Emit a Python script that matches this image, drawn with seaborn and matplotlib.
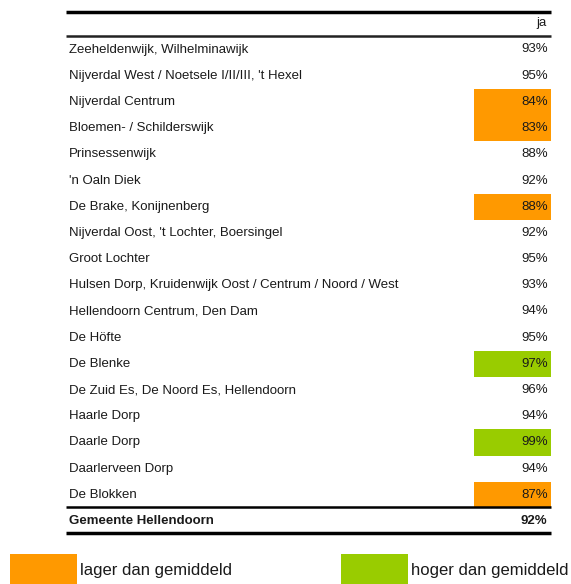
import numpy as np
import pandas as pd
import seaborn as sns
import matplotlib.pyplot as plt
from matplotlib.colors import ListedColormap
from matplotlib.patches import Rectangle

# Gegevens
wijken = ["Zeeheldenwijk, Wilhelminawijk",
          "Nijverdal West / Noetsele I/II/III, 't Hexel",
          "Nijverdal Centrum",
          "Bloemen- / Schilderswijk",
          "Prinsessenwijk",
          "'n Oaln Diek",
          "De Brake, Konijnenberg",
          "Nijverdal Oost, 't Lochter, Boersingel",
          "Groot Lochter",
          "Hulsen Dorp, Kruidenwijk Oost / Centrum / Noord / West",
          "Hellendoorn Centrum, Den Dam",
          "De Höfte",
          "De Blenke",
          "De Zuid Es, De Noord Es, Hellendoorn",
          "Haarle Dorp",
          "Daarle Dorp",
          "Daarlerveen Dorp",
          "De Blokken"]
ja = [93, 95, 84, 83, 88, 92, 88, 92, 95, 93, 94, 95, 97, 96, 94, 99, 94, 87]
status = ["", "", "lager", "lager", "", "", "lager", "", "", "", "", "",
          "hoger", "", "", "hoger", "", "lager"]
totaal_naam = "Gemeente Hellendoorn"
totaal_ja = 92
kolom = "ja"
legenda = ["lager dan gemiddeld", "hoger dan gemiddeld"]

ORANJE = "#FF9900"
GROEN = "#99CC00"
TXT = "#1a1a1a"

sns.set_theme(style="white")
plt.rcParams["font.family"] = ["Liberation Sans", "DejaVu Sans"]

W, H = 571, 584
ROW0, ROWH = 49.5, 26.2   # pixel centre of first row, row height
FS = 9.5
fig = plt.figure(figsize=(W / 100, H / 100), dpi=100)
ax = fig.add_axes([0, 0, 1, 1])
ax.set_xlim(0, W)
ax.set_ylim((H - ROW0) / ROWH, -ROW0 / ROWH)
ax.axis("off")
ax.set_zorder(2)

df = pd.DataFrame({"wijk": wijken, "ja": ja, "status": status})
n = len(df)

# gekleurde cellen via heatmap
code = df["status"].map({"": 0, "lager": 1, "hoger": 2}).to_numpy().reshape(-1, 1)
annot = np.array([f"{v}%" for v in df["ja"]]).reshape(-1, 1)
top_px = ROW0 - ROWH / 2
bot_px = ROW0 + ROWH * (n - 0.5)
hax = fig.add_axes([474 / W, 1 - bot_px / H, 77 / W, (bot_px - top_px) / H])
hax.set_zorder(1)
sns.heatmap(code, ax=hax, cmap=ListedColormap(["white", ORANJE, GROEN]),
            vmin=-0.5, vmax=2.5, cbar=False, annot=annot, fmt="",
            annot_kws={"fontsize": FS, "color": TXT}, xticklabels=False, yticklabels=False)
for t in hax.texts:
    t.set_ha("right")
    t.set_x(0.96)
hax.patch.set_alpha(0)

# tekstkolom
for i, naam in enumerate(df["wijk"]):
    ax.text(69, i, naam, ha="left", va="center", fontsize=FS, color=TXT)
ax.text(547, -1, kolom, ha="right", va="center", fontsize=FS, color=TXT)
ax.text(69, n, totaal_naam, ha="left", va="center", fontsize=FS, color=TXT, fontweight="bold")
ax.text(547, n, f"{totaal_ja}%", ha="right", va="center", fontsize=FS, color=TXT, fontweight="bold")

# lijnen
ax.plot([66, 551], [-1.45, -1.45], color="black", lw=2.5, solid_capstyle="butt")
ax.plot([66, 551], [-0.52, -0.52], color="#222222", lw=1.8, solid_capstyle="butt")
ax.plot([66, 551], [n - 0.52, n - 0.52], color="black", lw=1.8, solid_capstyle="butt")
ax.plot([66, 551], [n + 0.47, n + 0.47], color="black", lw=2.5, solid_capstyle="butt")

# legenda
ly = (554 - ROW0) / ROWH
lh = (H - 554) / ROWH
ax.add_patch(Rectangle((10, ly), 67, lh, color=ORANJE, lw=0))
ax.add_patch(Rectangle((341, ly), 67, lh, color=GROEN, lw=0))
ax.text(80, (570 - ROW0) / ROWH, legenda[0], ha="left", va="center", fontsize=12, color=TXT)
ax.text(411, (570 - ROW0) / ROWH, legenda[1], ha="left", va="center", fontsize=12, color=TXT)

fig.savefig("out.png", dpi=100)
